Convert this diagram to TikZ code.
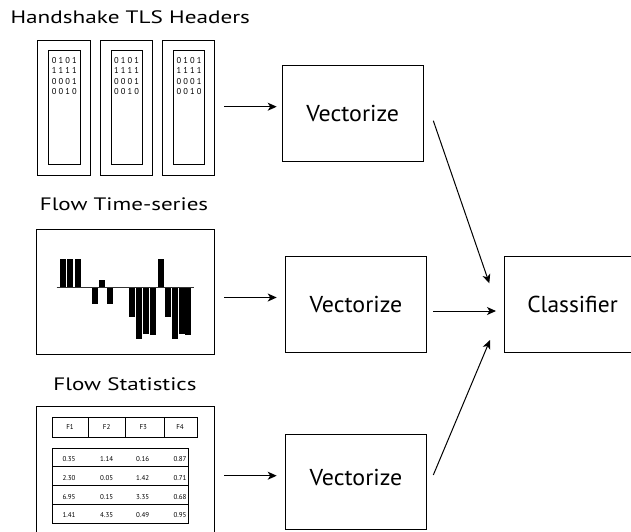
\documentclass[tikz,border=0pt]{standalone}
\usepackage{fontspec}
\setmainfont{PT Sans}
\newfontfamily\bitfont[LetterSpace=25]{PT Sans}
\usetikzlibrary{arrows.meta}

% wide-set headings and stage labels
\newcommand\widetext[2]{\scalebox{#1}[1]{#2}}

\begin{document}
\begin{tikzpicture}[x=1pt,y=-1pt,
  frame/.style={draw, line width=1pt},
  stage/.style={draw, line width=1pt, minimum width=140.5pt, minimum height=95.5pt,
    inner sep=0pt, font=\fontsize{23}{27}\selectfont},
  stagetext/.style={inner sep=0pt, font=\fontsize{23}{27}\selectfont},
  title/.style={font=\fontsize{18}{22}\selectfont, inner sep=0pt},
  flow/.style={line width=1pt, -{Stealth[length=9pt,width=8pt,inset=2.5pt]}},
  bar/.style={fill=black},
  cell/.style={font=\fontsize{7}{8}\selectfont, inner sep=0pt},
  bits/.style={font=\bitfont\fontsize{8.5}{10.4}\selectfont, align=left,
    anchor=north west, inner sep=0pt}
]
\useasboundingbox (0,0) rectangle (631,531);

% ---- Handshake TLS headers: three packet cards ----
\node[title] (hdrtitle) at (130.3,17) {\widetext{1.29}{Handshake TLS Headers}};
\foreach \x [count=\i] in {37.7,100,162.3} {
  \draw[frame] (\x,40) rectangle ++(52.5,135);
  \draw[frame] (\x+11,50) rectangle ++(31.3,114);
  \node[bits] (bits\i) at (\x+14,57) {0101\\1111\\0001\\0010};
}

% ---- Flow time-series: bar chart around a baseline ----
\node[title] (tstitle) at (124,204) {\widetext{1.28}{Flow Time-series}};
\draw[frame] (36.7,229.3) rectangle (214.5,354.3);
\foreach \a/\b in {60/259, 67.3/259, 75/259, 99/280, 158.3/259,
                   92/304.3, 107/304.3, 129/316.7, 136/338.7, 143/334,
                   150/334.7, 165/316.7, 172/338.7, 178.5/334, 185/334.7}
  \fill[bar] (\a,287.7) rectangle (\a+6,\b);
\draw[line width=1.2pt, black!80] (56.7,287.7) -- (194,287.7);

% ---- Flow statistics: feature table ----
\node[title] (sttitle) at (125,384) {\widetext{1.28}{Flow Statistics}};
\draw[frame] (36.7,545) rectangle (214.7,406.7);
\draw[frame] (52.3,417.3) rectangle (197.7,437.3);
\foreach \x in {88.3,125,164} \draw[frame] (\x,417.3) -- (\x,437.3);
\foreach \t/\x in {F1/70, F2/106.7, F3/143.3, F4/180}
  \node[cell] (hd\t) at (\x,427.3) {\t};
\draw[frame] (52.3,448.3) rectangle (188.7,523.3);
\foreach \y in {466.7,485.7,504} \draw[frame] (52.3,\y) -- (188.7,\y);
\foreach \r/\y/\va/\vb/\vc/\vd in {1/459/0.35/1.14/0.16/0.87,
                                   2/478.3/2.30/0.05/1.42/0.71,
                                   3/497/6.95/0.15/3.35/0.68,
                                   4/515.3/1.41/4.35/0.49/0.95} {
  \node[cell] (c\r a) at (69,\y) {\va};
  \node[cell] (c\r b) at (106.7,\y) {\vb};
  \node[cell] (c\r c) at (142.7,\y) {\vc};
  \node[cell] (c\r d) at (180,\y) {\vd};
}

% ---- Processing stages ----
\node[stage] (vec1) at (352.75,113.25) {\widetext{1.04}{Vectorize}};
\node[stage] (vec2) at (356,304.5) {\widetext{1.04}{Vectorize}};
\node[stage] (vec3) at (356,481.75) {};
\node[stagetext] (vec3label) at ([yshift=4.5pt]vec3.center) {\widetext{1.04}{Vectorize}};
\node[stage, minimum width=136pt] (cls) at (572.5,304.5) {\widetext{1.02}{Classifier}};

% ---- Connector end points ----
\coordinate (hdrout) at (224,106.7);  \coordinate (vec1in) at (276.7,106.7);
\coordinate (tsout) at (224,297.5);   \coordinate (vec2in) at (276.7,297.5);
\coordinate (stout) at (224,475.7);   \coordinate (vec3in) at (276.7,475.7);
\coordinate (vec1out) at (433.3,120.7); \coordinate (clsin1) at (489.3,283.3);
\coordinate (vec2out) at (433.3,311);   \coordinate (clsin2) at (496,311);
\coordinate (vec3out) at (433.3,475);   \coordinate (clsin3) at (490,340);

\draw[flow] (hdrout) -- (vec1in);
\draw[flow] (tsout) -- (vec2in);
\draw[flow] (stout) -- (vec3in);
\draw[flow] (vec1out) -- (clsin1);
\draw[flow] (vec2out) -- (clsin2);
\draw[flow] (vec3out) -- (clsin3);
\end{tikzpicture}
\end{document}
